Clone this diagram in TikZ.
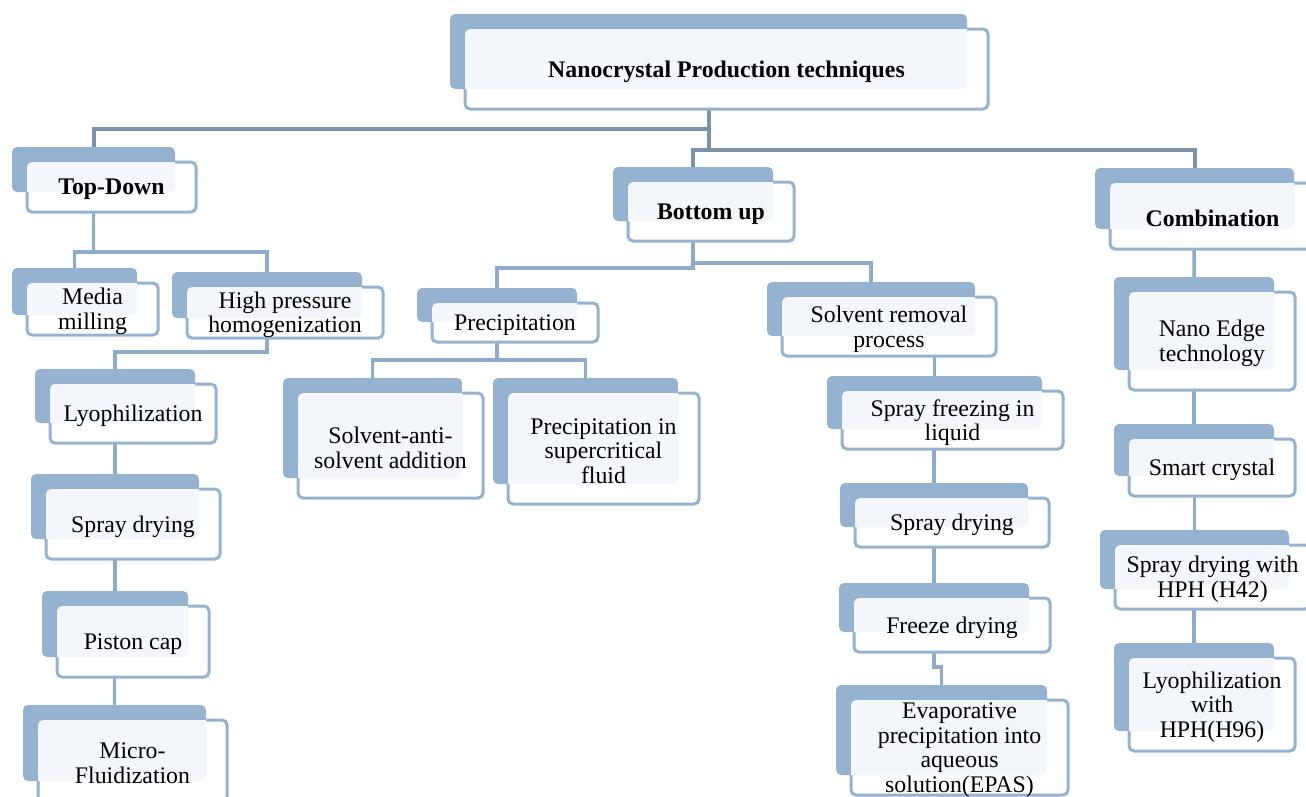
\documentclass[tikz,border=0pt]{standalone}
\usepackage{fontspec}
\setmainfont{Liberation Serif}
\definecolor{backc}{HTML}{95B3D0}
\definecolor{tintc}{HTML}{F3F6FA}
\definecolor{conna}{HTML}{7A93AB}
\definecolor{connb}{HTML}{8DACC9}
\tikzset{
  backbox/.style={fill=backc, draw=none, rounded corners=5pt, inner sep=0pt, outer sep=0pt, rectangle},
  frontbox/.style={fill=white, draw=backc, line width=3pt, rounded corners=5pt, inner sep=0pt, outer sep=0pt, rectangle},
  txtnode/.style={inner sep=0pt, align=center, yshift=-2.5pt, font=\fontsize{23.8}{24.6}\selectfont},
  linka/.style={draw=conna, line width=4pt},
  linkb/.style={draw=connb, line width=3.5pt},
}
% #1 name, #2 x1, #3 y1, #4 x2, #5 y2 (back box, pixels), #6 text
\newcommand\pbox[6]{%
  \node[backbox, minimum width={(#4-#2)*1pt}, minimum height={(#5-#3)*1pt}] (#1b) at ({(#2+#4)/2},{(#3+#5)/2}) {};
  \node[frontbox, minimum width={(#4-#2+6)*1pt}, minimum height={(#5-#3+5)*1pt}] (#1) at ({(#2+#4)/2+18},{(#3+#5)/2+17.5}) {};
  \begin{scope}
    \clip[rounded corners=5pt] (#1b.south west) rectangle (#1b.north east);
    \fill[tintc, rounded corners=5pt] (#1.south west) rectangle (#1.north east);
  \end{scope}
  \node[txtnode] (#1t) at (#1.center) {#6};
}
\pgfdeclarelayer{links}
\pgfsetlayers{links,main}
\begin{document}
\begin{tikzpicture}[x=1pt,y=-1pt]
\useasboundingbox (0,0) rectangle (1306,796);
% junction levels
\coordinate (ja) at (0,129);
\coordinate (jb) at (0,150);
\coordinate (jtd) at (0,252);
\coordinate (jhph) at (0,352);
\coordinate (jbul) at (0,268);
\coordinate (jbur) at (0,263);
\coordinate (jpr) at (0,360);
\coordinate (jfd) at (0,667);

\pbox{root}{450}{14}{967}{89}{\textbf{Nanocrystal Production techniques}}
\pbox{td}{12}{147}{175}{192}{\textbf{Top-Down}}
\pbox{bu}{613}{167}{773}{221}{\textbf{Bottom up}}
\pbox{cb}{1095}{168}{1294}{229}{\textbf{Combination}}

\pbox{mm}{12}{268}{137}{315}{Media\\milling}
\pbox{hph}{172}{272}{362}{318}{High pressure\\homogenization}
\pbox{ly}{35}{369}{195}{423}{Lyophilization}
\pbox{spd}{31}{474}{199}{539}{Spray drying}
\pbox{pc}{42}{591}{188}{657}{Piston cap}
\pbox{mf}{23}{705}{206}{781}{Micro-\\Fluidization}

\pbox{pr}{417}{288}{577}{322}{Precipitation}
\pbox{sas}{283}{378}{462}{478}{Solvent-anti-\\solvent addition}
\pbox{scf}{493}{378}{678}{484}{Precipitation in\\supercritical\\fluid}

\pbox{sr}{767}{282}{975}{336}{Solvent removal\\process}
\pbox{sf}{827}{376}{1042}{429}{Spray freezing in\\liquid}
\pbox{sdtwo}{840}{483}{1028}{527}{Spray drying}
\pbox{fd}{839}{583}{1029}{632}{Freeze drying}
\pbox{ep}{836}{685}{1047}{775}{Evaporative\\precipitation into\\aqueous\\solution(EPAS)}

\pbox{ne}{1114}{277}{1274}{370}{Nano Edge\\technology}
\pbox{sc}{1114}{424}{1274}{476}{Smart crystal}
\pbox{sdh}{1100}{530}{1289}{589}{Spray drying with\\HPH (H42)}
\pbox{lh}{1114}{643}{1274}{731}{Lyophilization\\with\\HPH(H96)}

\begin{pgfonlayer}{links}
% root level
\draw[linka] (rootb.center) |- (tdb.north |- ja) -- (tdb.north);
\draw[linka] (rootb.center) |- (bub.north |- jb) -- (bub.north);
\draw[linka] (rootb.center) |- (cbb.north |- jb) -- (cbb.north);
% top-down
\draw[linkb] (tdb.center) |- (mmb.north |- jtd) -- (mmb.north);
\draw[linkb] (tdb.center) |- (hphb.north |- jtd) -- (hphb.north);
\draw[linkb] (hphb.center) |- (lyb.north |- jhph) -- (lyb.north);
\draw[linkb] (spdb.north |- lyb.center) -- (spdb.north);
\draw[linkb] (pcb.north |- spdb.center) -- (pcb.north);
\draw[linkb] (mfb.north |- pcb.center) -- (mfb.north);
% bottom up
\draw[linkb] (bub.center) |- (prb.north |- jbul) -- (prb.north);
\draw[linkb] (bub.center) |- (srb.north |- jbur) -- (srb.north);
\draw[linkb] (prb.center) |- (sasb.north |- jpr) -- (sasb.north);
\draw[linkb] (prb.center) |- (scfb.north |- jpr) -- (scfb.north);
\draw[linkb] (sfb.north |- srb.center) -- (sfb.north);
\draw[linkb] (sdtwob.north |- sfb.center) -- (sdtwob.north);
\draw[linkb] (fdb.north |- sdtwob.center) -- (fdb.north);
\draw[linkb] (fdb.center) |- (epb.north |- jfd) -- (epb.north);
% combination
\draw[linkb] (cbb.center) -- (neb.north);
\draw[linkb] (scb.north |- neb.center) -- (scb.north);
\draw[linkb] (sdhb.north |- scb.center) -- (sdhb.north);
\draw[linkb] (lhb.north |- sdhb.center) -- (lhb.north);
\end{pgfonlayer}
\end{tikzpicture}
\end{document}
